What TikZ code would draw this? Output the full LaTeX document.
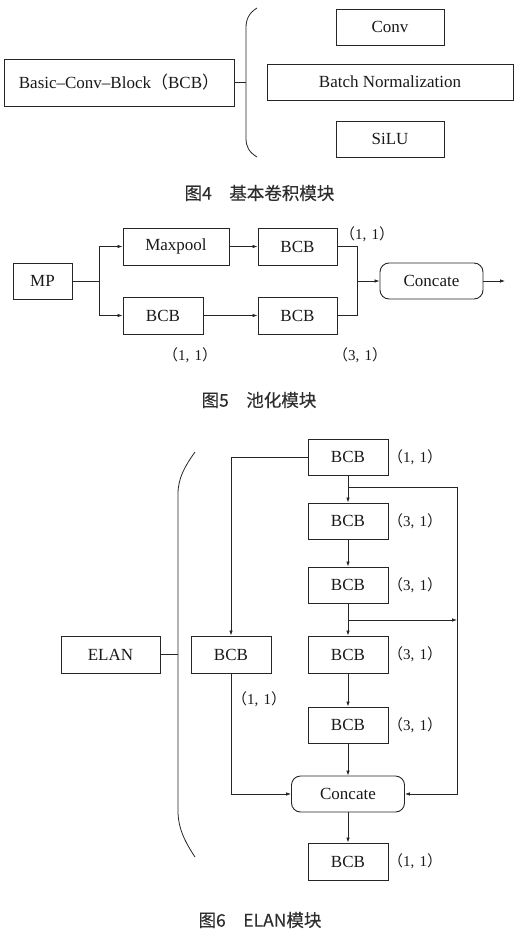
\documentclass[tikz,border=0pt]{standalone}
\usepackage{fontspec}
\setmainfont{Liberation Serif}
\newfontfamily\cjk{Noto Sans CJK SC}
\newfontfamily\cjkcap{Noto Sans CJK SC}[FakeBold=0.3]
\usetikzlibrary{arrows.meta}
\newcommand{\lpar}{{\cjk （}}
\newcommand{\rpar}{{\cjk ）}}
\newcommand{\fcm}{,\kern0.35em}
\begin{document}
\begin{tikzpicture}[x=1pt,y=-1pt,
  box/.style={draw=black!85, line width=0.9pt, inner sep=0pt, font=\fontsize{17}{20}\selectfont, text=black!90},
  rbox/.style={box, rounded corners=9pt},
  lab/.style={inner sep=0pt, font=\fontsize{15}{17}\selectfont, text=black!90},
  captext/.style={inner sep=0pt, font=\cjkcap\fontsize{17.5}{20}\selectfont, text=black!82},
  arr/.style={-{Latex[length=5pt,width=3.6pt]}},
  ln/.style={draw=black!85, line width=0.8pt}
]
\useasboundingbox (0,0) rectangle (522,931);
% ---------- Figure 4
\node[box, minimum width=230pt, minimum height=47pt] (bcbm) at (119,82.5) {Basic–Conv–Block\lpar BCB\rpar};
\node[box, minimum width=108pt, minimum height=36pt] (conv) at (390,27) {Conv};
\node[box, minimum width=246pt, minimum height=36pt] (bn) at (390,82) {Batch Normalization};
\node[box, minimum width=108pt, minimum height=36pt] (silu) at (390,139) {SiLU};
\coordinate (br4) at (246,82.5);
\draw[ln] (257,8) .. controls (249,13) and (246,19) .. (246,28) -- (246,138) .. controls (246,147) and (249,152) .. (257,157);
\draw[ln] (bcbm.east) -- (br4);
\node[captext] (c4) at (259.5,193) {图4\hspace{1em}基本卷积模块};
% ---------- Figure 5
\node[box, minimum width=59pt, minimum height=36pt] (mp) at (42.5,281) {MP};
\node[box, minimum width=106pt, minimum height=37pt] (maxp) at (176,246.5) {Maxpool};
\node[box, minimum width=79pt, minimum height=37pt] (b5a) at (297.5,246.5) {BCB};
\node[box, minimum width=80pt, minimum height=37pt] (b5b) at (163,315.5) {BCB};
\node[box, minimum width=79pt, minimum height=37pt] (b5c) at (297.5,315.5) {BCB};
\node[rbox, minimum width=103pt, minimum height=36pt] (cat5) at (431.5,281) {Concate};
\coordinate (s5) at (99,281);
\coordinate (m5) at (357,281);
\coordinate (o5) at (505,281);
\draw[ln] (mp.east) -- (s5);
\draw[ln,arr] (s5) |- (maxp.west);
\draw[ln,arr] (s5) |- (b5b.west);
\draw[ln,arr] (maxp) -- (b5a);
\draw[ln,arr] (b5b) -- (b5c);
\draw[ln] (b5a.east) -| (m5);
\draw[ln] (b5c.east) -| (m5);
\draw[ln,arr] (m5) -- (cat5.west);
\draw[ln,arr] (cat5.east) -- (o5);
\node[lab] (l5a) at (367,234) {\lpar 1\fcm 1\rpar};
\node[lab] (l5b) at (190,355) {\lpar 1\fcm 1\rpar};
\node[lab] (l5c) at (360,355) {\lpar 3\fcm 1\rpar};
\node[captext] (c5) at (259,400) {图5\hspace{1em}池化模块};
% ---------- Figure 6
\node[box, minimum width=99pt, minimum height=37pt] (elan) at (110.5,654.5) {ELAN};
\coordinate (br6) at (178,654.5);
\draw[ln] (195,452) .. controls (185,466) and (178,478) .. (178,494) -- (178,811) .. controls (178,828) and (185,842) .. (195,857);
\draw[ln] (elan.east) -- (br6);
\node[box, minimum width=80pt, minimum height=37pt] (bL) at (231,654.5) {BCB};
\node[box, minimum width=80pt, minimum height=36pt] (e1) at (348,457) {BCB};
\node[box, minimum width=80pt, minimum height=36pt] (e2) at (348,521) {BCB};
\node[box, minimum width=80pt, minimum height=36pt] (e3) at (348,585) {BCB};
\node[box, minimum width=80pt, minimum height=37pt] (e4) at (348,654.5) {BCB};
\node[box, minimum width=80pt, minimum height=36pt] (e5) at (348,725) {BCB};
\node[rbox, minimum width=113pt, minimum height=36pt] (cat6) at (348,794) {Concate};
\node[box, minimum width=80pt, minimum height=37pt] (e6) at (348,861.5) {BCB};
\coordinate (j1) at (348,487);
\coordinate (r1) at (457,487);
\coordinate (j2) at (348,620);
\coordinate (r2) at (457,620);
\draw[ln,arr] (e1) -- (e2);
\draw[ln,arr] (e2) -- (e3);
\draw[ln,arr] (e3) -- (e4);
\draw[ln,arr] (e4) -- (e5);
\draw[ln,arr] (e5) -- (cat6);
\draw[ln,arr] (cat6) -- (e6);
\draw[ln,arr] (j1) -- (r1) |- (cat6.east);
\draw[ln,arr] (j2) -- (r2);
\draw[ln,arr] (e1.west) -| (bL.north);
\draw[ln,arr] (bL.south) |- (cat6.west);
\node[lab] (le1) at (415,457) {\lpar 1\fcm 1\rpar};
\node[lab] (le2) at (415,521) {\lpar 3\fcm 1\rpar};
\node[lab] (le3) at (415,585) {\lpar 3\fcm 1\rpar};
\node[lab] (le4) at (415,654.5) {\lpar 3\fcm 1\rpar};
\node[lab] (le5) at (415,725) {\lpar 3\fcm 1\rpar};
\node[lab] (le6) at (415,861.5) {\lpar 1\fcm 1\rpar};
\node[lab] (lL) at (259,699) {\lpar 1\fcm 1\rpar};
\node[captext] (c6) at (260,920) {图6\hspace{1em}ELAN模块};
\end{tikzpicture}
\end{document}
